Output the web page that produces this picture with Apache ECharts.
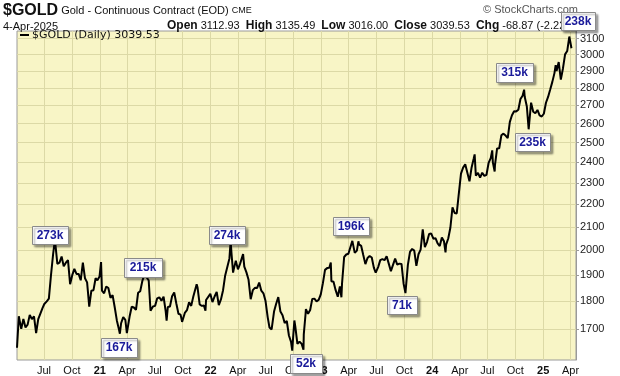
<!DOCTYPE html>
<html>
<head>
<meta charset="utf-8">
<script src="https://cdn.jsdelivr.net/npm/echarts@6/dist/echarts.min.js"></script>
<style>
  html, body { margin: 0; padding: 0; background: #fff; }
  #chart { width: 620px; height: 376px; }
</style>
</head>
<body>
<div id="chart"></div>
<script>
// closing prices, [date, close]
const gold2020 = [
  ['2020-04-03', 1635], ['2020-04-09', 1745], ['2020-04-17', 1700], ['2020-04-24', 1735],
  ['2020-05-01', 1705], ['2020-05-08', 1715], ['2020-05-15', 1750], ['2020-05-22', 1735],
  ['2020-05-29', 1745], ['2020-06-05', 1685], ['2020-06-12', 1735], ['2020-06-19', 1755],
  ['2020-06-26', 1775], ['2020-07-02', 1790], ['2020-07-10', 1800], ['2020-07-17', 1810],
  ['2020-07-24', 1900], ['2020-07-31', 1985], ['2020-08-06', 2045], ['2020-08-14', 1945],
  ['2020-08-21', 1950], ['2020-08-28', 1975], ['2020-09-04', 1935], ['2020-09-11', 1950],
  ['2020-09-18', 1960], ['2020-09-25', 1865], ['2020-10-02', 1900], ['2020-10-09', 1925],
  ['2020-10-16', 1905], ['2020-10-23', 1905], ['2020-10-30', 1880], ['2020-11-06', 1950],
  ['2020-11-13', 1888], ['2020-11-20', 1872], ['2020-11-27', 1780], ['2020-12-04', 1840],
  ['2020-12-11', 1842], ['2020-12-18', 1888], ['2020-12-24', 1880], ['2020-12-31', 1895]
];
const gold2021 = [
  ['2021-01-05', 1952], ['2021-01-08', 1840], ['2021-01-15', 1830], ['2021-01-22', 1856],
  ['2021-01-29', 1850], ['2021-02-05', 1813], ['2021-02-12', 1823], ['2021-02-19', 1778],
  ['2021-02-26', 1730], ['2021-03-05', 1698], ['2021-03-08', 1683], ['2021-03-12', 1720],
  ['2021-03-19', 1742], ['2021-03-26', 1732], ['2021-03-31', 1685], ['2021-04-09', 1744],
  ['2021-04-16', 1780], ['2021-04-23', 1777], ['2021-04-30', 1768], ['2021-05-07', 1832],
  ['2021-05-14', 1838], ['2021-05-21', 1877], ['2021-05-28', 1903], ['2021-06-04', 1892],
  ['2021-06-11', 1879], ['2021-06-17', 1765], ['2021-06-25', 1781], ['2021-07-02', 1783],
  ['2021-07-09', 1811], ['2021-07-16', 1815], ['2021-07-23', 1802], ['2021-07-30', 1817],
  ['2021-08-06', 1763], ['2021-08-09', 1729], ['2021-08-13', 1779], ['2021-08-20', 1781],
  ['2021-08-27', 1819], ['2021-09-03', 1833], ['2021-09-10', 1792], ['2021-09-17', 1754],
  ['2021-09-24', 1751], ['2021-09-29', 1725], ['2021-10-08', 1757], ['2021-10-15', 1767],
  ['2021-10-22', 1796], ['2021-10-29', 1783], ['2021-11-05', 1818], ['2021-11-16', 1865],
  ['2021-11-19', 1852], ['2021-11-26', 1788], ['2021-12-03', 1783], ['2021-12-10', 1784],
  ['2021-12-15', 1765], ['2021-12-17', 1805], ['2021-12-23', 1811], ['2021-12-31', 1828]
];
const gold2022 = [
  ['2022-01-07', 1797], ['2022-01-14', 1818], ['2022-01-21', 1835], ['2022-01-28', 1786],
  ['2022-02-04', 1807], ['2022-02-11', 1842], ['2022-02-18', 1899], ['2022-02-24', 1905],
  ['2022-03-04', 1967], ['2022-03-08', 2040], ['2022-03-11', 1985], ['2022-03-16', 1910],
  ['2022-03-18', 1922], ['2022-03-25', 1958], ['2022-04-01', 1923], ['2022-04-08', 1945],
  ['2022-04-18', 1985], ['2022-04-22', 1934], ['2022-04-29', 1911], ['2022-05-06', 1882],
  ['2022-05-13', 1808], ['2022-05-20', 1842], ['2022-05-27', 1851], ['2022-06-03', 1850],
  ['2022-06-10', 1871], ['2022-06-17', 1840], ['2022-06-24', 1830], ['2022-07-01', 1801],
  ['2022-07-08', 1742], ['2022-07-14', 1705], ['2022-07-21', 1698], ['2022-07-29', 1762],
  ['2022-08-05', 1791], ['2022-08-12', 1816], ['2022-08-19', 1762], ['2022-08-26', 1749],
  ['2022-09-02', 1721], ['2022-09-09', 1728], ['2022-09-16', 1677], ['2022-09-23', 1655],
  ['2022-09-27', 1625], ['2022-09-30', 1672], ['2022-10-04', 1730], ['2022-10-07', 1709],
  ['2022-10-14', 1648], ['2022-10-21', 1656], ['2022-10-28', 1648], ['2022-11-03', 1628],
  ['2022-11-04', 1681], ['2022-11-10', 1755], ['2022-11-11', 1771], ['2022-11-18', 1754],
  ['2022-11-25', 1768], ['2022-12-02', 1809], ['2022-12-09', 1810], ['2022-12-16', 1800],
  ['2022-12-23', 1805], ['2022-12-30', 1826]
];
const gold2023 = [
  ['2023-01-06', 1869], ['2023-01-13', 1921], ['2023-01-20', 1928], ['2023-01-27', 1929],
  ['2023-02-01', 1950], ['2023-02-03', 1876], ['2023-02-10', 1874], ['2023-02-17', 1842],
  ['2023-02-24', 1817], ['2023-03-03', 1856], ['2023-03-08', 1815], ['2023-03-10', 1867],
  ['2023-03-17', 1973], ['2023-03-24', 1983], ['2023-03-31', 1986], ['2023-04-06', 2011],
  ['2023-04-13', 2040], ['2023-04-21', 1990], ['2023-04-28', 1999], ['2023-05-03', 2038],
  ['2023-05-05', 2025], ['2023-05-12', 2019], ['2023-05-19', 1981], ['2023-05-26', 1944],
  ['2023-06-02', 1969], ['2023-06-09', 1977], ['2023-06-16', 1971], ['2023-06-23', 1929],
  ['2023-06-29', 1910], ['2023-07-07', 1932], ['2023-07-14', 1960], ['2023-07-21', 1964],
  ['2023-07-28', 1960], ['2023-08-04', 1976], ['2023-08-11', 1946], ['2023-08-18', 1916],
  ['2023-08-25', 1941], ['2023-09-01', 1966], ['2023-09-08', 1942], ['2023-09-15', 1946],
  ['2023-09-22', 1945], ['2023-09-29', 1866], ['2023-10-05', 1831], ['2023-10-06', 1845],
  ['2023-10-13', 1941], ['2023-10-20', 1994], ['2023-10-27', 2006], ['2023-11-03', 1999],
  ['2023-11-10', 1937], ['2023-11-17', 1984], ['2023-11-24', 2003], ['2023-12-01', 2089],
  ['2023-12-08', 2014], ['2023-12-15', 2035], ['2023-12-22', 2069], ['2023-12-29', 2071]
];
const gold2024 = [
  ['2024-01-05', 2049], ['2024-01-12', 2051], ['2024-01-19', 2029], ['2024-01-26', 2018],
  ['2024-02-02', 2054], ['2024-02-09', 2038], ['2024-02-14', 1992], ['2024-02-16', 2024],
  ['2024-02-23', 2050], ['2024-03-01', 2096], ['2024-03-08', 2186], ['2024-03-15', 2161],
  ['2024-03-22', 2159], ['2024-03-28', 2238], ['2024-04-05', 2345], ['2024-04-12', 2374],
  ['2024-04-19', 2390], ['2024-04-26', 2349], ['2024-05-03', 2308], ['2024-05-10', 2375],
  ['2024-05-17', 2419], ['2024-05-20', 2440], ['2024-05-24', 2335], ['2024-05-31', 2348],
  ['2024-06-07', 2325], ['2024-06-14', 2349], ['2024-06-21', 2334], ['2024-06-28', 2339],
  ['2024-07-05', 2397], ['2024-07-12', 2421], ['2024-07-17', 2460], ['2024-07-19', 2400],
  ['2024-07-25', 2355], ['2024-07-26', 2386], ['2024-08-02', 2470], ['2024-08-09', 2471],
  ['2024-08-16', 2538], ['2024-08-23', 2547], ['2024-08-30', 2537], ['2024-09-06', 2524],
  ['2024-09-13', 2610], ['2024-09-20', 2646], ['2024-09-27', 2668], ['2024-10-04', 2667],
  ['2024-10-11', 2676], ['2024-10-18', 2736], ['2024-10-25', 2755], ['2024-10-30', 2790],
  ['2024-11-01', 2749], ['2024-11-08', 2694], ['2024-11-14', 2570], ['2024-11-15', 2571],
  ['2024-11-22', 2716], ['2024-11-29', 2665], ['2024-12-06', 2657], ['2024-12-13', 2675],
  ['2024-12-20', 2645], ['2024-12-27', 2639]
];
const gold2025 = [
  ['2025-01-03', 2654], ['2025-01-10', 2715], ['2025-01-17', 2748], ['2025-01-24', 2791],
  ['2025-01-31', 2835], ['2025-02-07', 2887], ['2025-02-11', 2935], ['2025-02-14', 2900],
  ['2025-02-21', 2954], ['2025-02-28', 2849], ['2025-03-07', 2915], ['2025-03-14', 3001],
  ['2025-03-21', 3022], ['2025-03-28', 3114], ['2025-04-01', 3120], ['2025-04-02', 3125],
  ['2025-04-03', 3108.4], ['2025-04-04', 3039.53]
];

// axis ticks
const tickDates = [
  '2020-07-01', '2020-10-01', '2021-01-01', '2021-04-01', '2021-07-01', '2021-10-01',
  '2022-01-01', '2022-04-01', '2022-07-01', '2022-10-01', '2023-01-01', '2023-04-01',
  '2023-07-01', '2023-10-01', '2024-01-01', '2024-04-01', '2024-07-01', '2024-10-01',
  '2025-01-01', '2025-04-01'
];
const priceTicks = [1700, 1800, 1900, 2000, 2100, 2200, 2300, 2400, 2500, 2600, 2700, 2800, 2900, 3000, 3100];
const monthNames = ['Jan', 'Feb', 'Mar', 'Apr', 'May', 'Jun', 'Jul', 'Aug', 'Sep', 'Oct', 'Nov', 'Dec'];
const xStart = '2020-04-03';
const xEnd = '2025-04-19';

// header texts
const quoteLabels = ['Open', 'High', 'Low', 'Close', 'Chg'];
const quoteValues = ['3112.93', '3135.49', '3016.00', '3039.53', '-68.87 (-2.22%)'];

// volume call-outs and where they sit (pixel boxes: x, y, w, h)
const volumeTags = ['273k', '167k', '215k', '274k', '52k', '196k', '71k', '315k', '235k', '238k'];
const tagBoxes = [
  [32, 226, 36, 18], [101, 338, 36, 19], [124, 258, 38, 19], [209, 226, 36, 18], [290, 354, 32, 19],
  [333, 217, 36, 18], [387, 296, 30, 18], [496, 63, 37, 19], [515, 133, 35, 18], [561, 12, 34, 18]
];

const FONT = 'Liberation Sans';
const plotBg = '#f8f5c6';
const gridColor = '#dcd9a6';

const toTime = (s) => Date.parse(s + 'T00:00:00Z');
const series = [].concat(gold2020, gold2021, gold2022, gold2023, gold2024, gold2025)
  .map(([d, v]) => [toTime(d), v]);
const tickTimes = tickDates.map(toTime);

const chart = echarts.init(document.getElementById('chart'), null, { renderer: 'canvas' });

const quoteRich = quoteLabels.map((l, i) => `{b|${l}} ${quoteValues[i]}`).join('  ');

const graphics = [
  {
    type: 'text', left: 3, top: 3, z: 10,
    style: {
      text: '{t|$GOLD} Gold - Continuous Contract (EOD) {s|CME}',
      fontFamily: FONT, fontSize: 11, fill: '#111',
      rich: {
        t: { fontFamily: FONT, fontSize: 16, fontWeight: 'bold', fill: '#111' },
        s: { fontFamily: FONT, fontSize: 9, fill: '#111' }
      }
    }
  },
  { type: 'text', left: 3, top: 21, z: 10, style: { text: '4-Apr-2025', fontFamily: FONT, fontSize: 11, fill: '#111' } },
  {
    type: 'text', left: 167, top: 20, z: 10,
    style: {
      text: quoteRich, fontFamily: FONT, fontSize: 11, fill: '#111',
      rich: { b: { fontFamily: FONT, fontSize: 12, fontWeight: 'bold', fill: '#111' } }
    }
  },
  { type: 'text', left: 483, top: 4, z: 10, style: { text: '\u00a9 StockCharts.com', fontFamily: FONT, fontSize: 11, fill: '#555' } },
  { type: 'rect', left: 20, top: 34, z: 10, shape: { width: 9, height: 2 }, style: { fill: '#000' } },
  { type: 'text', left: 32, top: 30, z: 10, style: { text: '$GOLD (Daily) 3039.53', fontFamily: 'DejaVu Sans', fontSize: 11, fill: '#111' } }
];

volumeTags.forEach((tag, i) => {
  const [x, y, w, h] = tagBoxes[i];
  graphics.push({
    type: 'rect', left: x, top: y, z: 100,
    shape: { width: w, height: h },
    style: { fill: '#fff', stroke: '#8a8a8a', lineWidth: 1, shadowBlur: 2, shadowOffsetX: 2, shadowOffsetY: 2, shadowColor: 'rgba(0,0,0,0.35)' }
  });
  graphics.push({
    type: 'text', x: x + w / 2, y: y + h / 2 + 0.5, z: 101,
    style: { text: tag, fontFamily: FONT, fontSize: 12, fontWeight: 'bold', fill: '#1a1a9a', align: 'center', verticalAlign: 'middle' }
  });
});

chart.setOption({
  animation: false,
  backgroundColor: '#fff',
  grid: { left: 17, right: 44, top: 31, bottom: 16, show: true, backgroundColor: plotBg, borderColor: '#9a9a9a', borderWidth: 1 },
  xAxis: {
    type: 'value',
    min: toTime(xStart),
    max: toTime(xEnd),
    axisLine: { show: false },
    axisTick: { show: false, customValues: tickTimes },
    splitLine: { show: true, lineStyle: { color: gridColor, width: 1 } },
    axisLabel: {
      customValues: tickTimes,
      color: '#111', fontFamily: FONT, fontSize: 11, margin: 5, hideOverlap: false,
      formatter: (v) => {
        const d = new Date(v);
        return d.getUTCMonth() === 0 ? `{yr|${String(d.getUTCFullYear()).slice(2)}}` : monthNames[d.getUTCMonth()];
      },
      rich: { yr: { fontFamily: FONT, fontSize: 11, fontWeight: 'bold', color: '#111' } }
    }
  },
  yAxis: {
    type: 'log',
    logBase: 10,
    position: 'right',
    min: 1594,
    max: 3150,
    axisLine: { show: true, lineStyle: { color: '#9a9a9a' } },
    axisTick: { show: true, length: 3, customValues: priceTicks, lineStyle: { color: '#9a9a9a' } },
    splitLine: { show: true, lineStyle: { color: gridColor, width: 1 } },
    axisLabel: {
      customValues: priceTicks, color: '#222', fontFamily: FONT, fontSize: 11, margin: 4,
      formatter: (v) => String(Math.round(v))
    }
  },
  series: [{
    type: 'line',
    data: series,
    showSymbol: false,
    lineStyle: { color: '#000', width: 2 },
    z: 5
  }],
  graphic: graphics
});
</script>
</body>
</html>
